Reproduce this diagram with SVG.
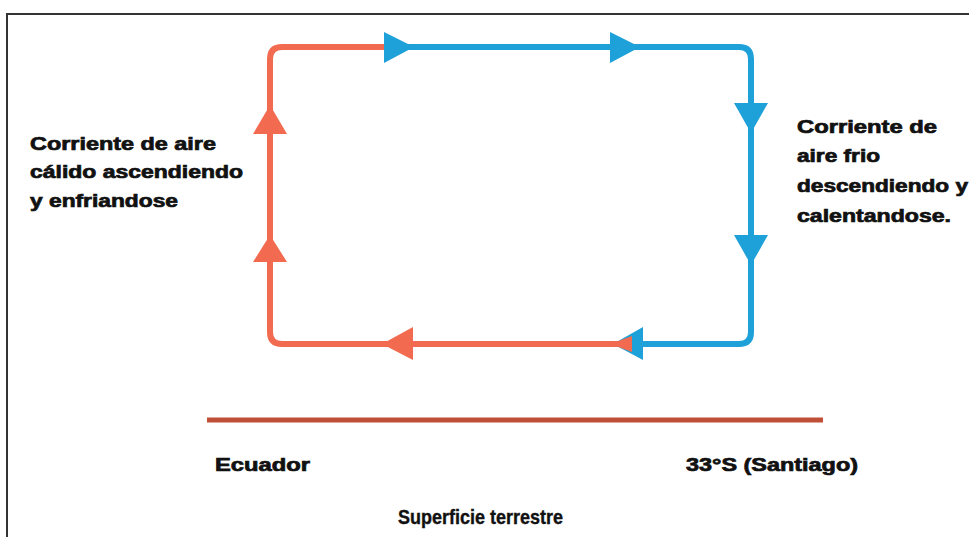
<svg xmlns="http://www.w3.org/2000/svg" width="969" height="537" viewBox="0 0 969 537">
<style>
.t{font-family:"Liberation Sans",Arial,sans-serif;font-weight:bold;font-size:18px;fill:#111;stroke:#111;stroke-width:0.7px}
.n{font-size:21px;stroke-width:0.4px}
.o{fill:none;stroke:#f26a4f;stroke-width:6;stroke-linejoin:round}
.b{fill:none;stroke:#1ea0d8;stroke-width:6;stroke-linejoin:round}
.oa{fill:#f26a4f}
.ba{fill:#1ea0d8}
</style>
<rect width="969" height="537" fill="#fff"/>
<g id="frame">
<path d="M7 537 V14 H969" fill="none" stroke="#333" stroke-width="2"/>
</g>
<g id="connectors">
<path class="o" d="M620 344 H282 Q270 344 270 332 V59 Q270 47 282 47 H386"/>
<path class="b" d="M384 47 H739 Q751 47 751 59 V332 Q751 344 739 344 H630"/>
<polygon class="ba" points="384,32 384,63 414,47"/>
<polygon class="ba" points="610,32 610,63 640,47"/>
<polygon class="ba" points="734,103 768,103 751,133"/>
<polygon class="ba" points="734,235 768,235 751,265"/>
<polygon class="ba" points="643,327 643,360 613,344"/>
<polygon class="oa" points="610,344 632,336 632,352"/>
<polygon class="oa" points="413,327 413,360 382,344"/>
<polygon class="oa" points="253,262 287,262 270,235"/>
<polygon class="oa" points="253,134 287,134 270,105"/>
</g>
<g id="ground">
<line x1="207" y1="420" x2="823" y2="420" stroke="#bf4f37" stroke-width="5"/>
</g>
<g id="label-left">
<text class="t" x="30" y="150" textLength="186" lengthAdjust="spacingAndGlyphs">Corriente de aire</text>
<text class="t" x="30" y="178" textLength="213" lengthAdjust="spacingAndGlyphs">cálido ascendiendo</text>
<text class="t" x="30" y="207" textLength="148" lengthAdjust="spacingAndGlyphs">y enfriandose</text>
</g>
<g id="label-right">
<text class="t" x="797" y="133" textLength="140" lengthAdjust="spacingAndGlyphs">Corriente de</text>
<text class="t" x="797" y="162" textLength="83" lengthAdjust="spacingAndGlyphs">aire frio</text>
<text class="t" x="797" y="192" textLength="171" lengthAdjust="spacingAndGlyphs">descendiendo y</text>
<text class="t" x="797" y="222" textLength="154" lengthAdjust="spacingAndGlyphs">calentandose.</text>
</g>
<g id="label-ecuador">
<text class="t" x="215" y="471" textLength="95" lengthAdjust="spacingAndGlyphs">Ecuador</text>
</g>
<g id="label-santiago">
<text class="t" x="686" y="471" textLength="172" lengthAdjust="spacingAndGlyphs">33°S (Santiago)</text>
</g>
<g id="label-superficie">
<text class="t n" x="398" y="524" textLength="165" lengthAdjust="spacingAndGlyphs">Superficie terrestre</text>
</g>
</svg>
